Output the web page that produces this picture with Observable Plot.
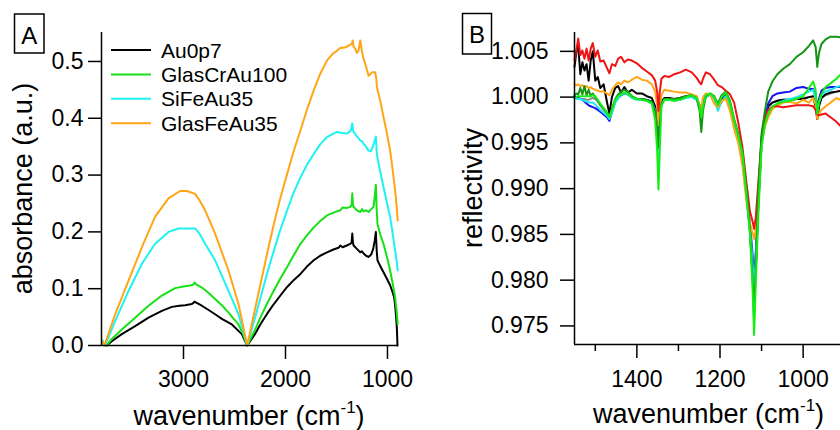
<!DOCTYPE html>
<html><head><meta charset="utf-8">
<script src="https://cdn.jsdelivr.net/npm/d3@7"></script>
<script src="https://cdn.jsdelivr.net/npm/@observablehq/plot@0.6"></script>
<style>
body{margin:0;background:#fff;}
#wrap{position:relative;width:840px;height:430px;overflow:hidden;background:#fff;}
#wrap svg{position:absolute;top:0;max-width:none;}
</style></head><body><div id="wrap"></div>
<script>
// ---------- Panel A data ----------
const seriesA = ["Au0p7", "GlasCrAu100", "SiFeAu35", "GlasFeAu35"];
const colorsA = ["#000000", "#16e016", "#1ff2f2", "#ffa516"];
const xTicksA = [3000, 2000, 1000];
const yTicksA = [0, 0.1, 0.2, 0.3, 0.4, 0.5];

const au0p7Wn  = [3790,3770,3752,3700,3605,3474,3343,3212,3114,3040,2984,2918,2900,2892,2880,2820,2750,2690,2624,2526,2428,2375,2300,2244,2180,2114,2050,1984,1920,1853,1790,1723,1660,1593,1530,1480,1463,1440,1400,1365,1352,1345,1338,1332,1300,1267,1250,1235,1210,1186,1160,1140,1125,1114,1105,1098,1085,1060,1039,1007,974,950,935,925,915,908,904,902];
const au0p7Abs = [0.004,0.002,0.0,0.008,0.020,0.034,0.049,0.061,0.068,0.070,0.071,0.073,0.0755,0.0775,0.076,0.070,0.062,0.055,0.047,0.037,0.020,0.0,0.020,0.038,0.056,0.073,0.088,0.103,0.115,0.126,0.139,0.150,0.158,0.164,0.169,0.172,0.176,0.173,0.176,0.179,0.181,0.197,0.180,0.176,0.170,0.164,0.166,0.162,0.158,0.156,0.160,0.170,0.185,0.200,0.165,0.150,0.145,0.136,0.129,0.118,0.106,0.094,0.085,0.070,0.050,0.030,0.010,0.0];

const glasCrWn  = [3795,3780,3755,3700,3605,3474,3343,3212,3082,3000,2951,2905,2892,2880,2820,2750,2690,2624,2559,2461,2420,2375,2300,2244,2180,2114,2050,1984,1920,1853,1790,1723,1660,1593,1530,1463,1440,1400,1365,1352,1345,1338,1332,1300,1267,1250,1235,1210,1186,1160,1137,1125,1114,1106,1098,1070,1039,1007,974,950,925,910,900];
const glasCrAbs = [0.006,0.002,0.0,0.012,0.028,0.049,0.070,0.088,0.101,0.104,0.105,0.107,0.111,0.108,0.102,0.092,0.082,0.071,0.058,0.037,0.022,0.0,0.027,0.050,0.074,0.097,0.118,0.138,0.159,0.179,0.194,0.208,0.219,0.229,0.234,0.238,0.243,0.242,0.244,0.247,0.268,0.248,0.244,0.238,0.235,0.240,0.236,0.238,0.235,0.240,0.244,0.262,0.283,0.240,0.214,0.195,0.179,0.157,0.132,0.110,0.085,0.060,0.038];

const siFeWn  = [3795,3785,3770,3670,3539,3408,3278,3147,3049,2960,2886,2840,2788,2690,2559,2461,2375,2300,2244,2180,2114,2050,1984,1920,1853,1790,1723,1660,1593,1530,1495,1450,1397,1360,1345,1335,1300,1267,1250,1235,1218,1186,1165,1153,1135,1114,1105,1098,1070,1039,1007,974,950,925,910,899];
const siFeAbs = [0.009,0.004,0.0,0.043,0.096,0.144,0.179,0.200,0.206,0.206,0.206,0.196,0.179,0.150,0.096,0.055,0.0,0.048,0.085,0.127,0.167,0.204,0.238,0.269,0.296,0.318,0.337,0.354,0.367,0.373,0.376,0.374,0.373,0.378,0.391,0.377,0.368,0.361,0.360,0.355,0.352,0.343,0.342,0.346,0.355,0.368,0.340,0.330,0.305,0.279,0.253,0.226,0.198,0.167,0.148,0.132];

const glasFeWn  = [3790,3775,3670,3539,3408,3278,3147,3033,2967,2886,2840,2788,2690,2559,2461,2375,2310,2244,2180,2114,2050,1984,1920,1853,1790,1723,1660,1593,1540,1495,1463,1430,1397,1360,1349,1342,1332,1315,1300,1284,1267,1251,1235,1218,1186,1165,1153,1121,1110,1104,1070,1039,1007,974,950,925,910,900];
const glasFeAbs = [0.006,0.0,0.055,0.114,0.173,0.227,0.259,0.272,0.272,0.267,0.255,0.238,0.197,0.132,0.073,0.0,0.055,0.109,0.162,0.214,0.260,0.302,0.342,0.379,0.415,0.449,0.478,0.502,0.513,0.519,0.524,0.524,0.526,0.530,0.531,0.537,0.526,0.522,0.515,0.519,0.537,0.519,0.505,0.496,0.475,0.478,0.481,0.481,0.470,0.455,0.430,0.402,0.375,0.343,0.310,0.273,0.245,0.220];

// ---------- Panel B data ----------
const wnB = [1550,1545,1541,1536,1531,1526,1521,1516,1511,1506,
 1500,1494,1488,1480,1472,1466,1460,1452,1445,1438,
 1430,1422,1412,1400,1388,1376,1364,1356,1351,1348,
 1345,1341,1334,1322,1310,1296,1282,1268,1256,1249,
 1245,1241,1234,1224,1214,1205,1196,1186,1176,1166,
 1156,1146,1136,1128,1122,1118,1114,1108,1100,1092,
 1084,1074,1062,1048,1032,1016,1000,986,976,970,
 966,962,956,946,934,920,905];
const xTicksB = [1400, 1200, 1000];
const xMinorB = [1500, 1300, 1100, 900];
const yTicksB = [0.975, 0.980, 0.985, 0.990, 0.995, 1.000, 1.005];

const grayR = [1.0000,0.9999,0.9999,0.9998,0.9998,0.9998,0.9997,0.9997,0.9998,0.9999,
 0.9998,0.9995,0.9991,0.9986,0.9982,0.9979,0.9985,0.9996,1.0000,1.0002,
 1.0004,1.0004,1.0000,0.9998,0.9998,0.9997,0.9995,0.9990,0.9975,0.9955,
 0.9975,0.9994,0.9998,0.9998,0.9997,0.9998,1.0000,1.0001,0.9998,0.9990,
 0.9983,0.9992,1.0001,1.0003,1.0000,0.9990,0.9998,1.0003,0.9990,0.9970,
 0.9955,0.9935,0.9893,0.9855,0.9810,0.9768,0.9810,0.9880,0.9950,0.9978,
 0.9990,0.9994,0.9996,0.9997,0.9997,0.9998,0.9999,1.0000,1.0000,0.9990,
 0.9976,0.9990,0.9999,1.0002,1.0004,1.0006,1.0007];
const blackR = [1.0033,1.0051,1.0056,1.0025,1.0038,1.0029,1.0036,1.0018,1.0040,1.0050,
 1.0018,1.0022,1.0010,1.0014,0.9995,0.9982,1.0000,1.0010,1.0012,1.0005,
 1.0011,1.0005,1.0008,1.0004,1.0004,1.0001,0.9999,0.9990,0.9975,0.9960,
 0.9975,0.9995,0.9999,0.9999,0.9998,0.9999,1.0001,1.0002,0.9999,0.9991,
 0.9984,0.9993,1.0002,1.0003,1.0000,0.9990,0.9998,1.0003,0.9990,0.9970,
 0.9955,0.9935,0.9893,0.9855,0.9812,0.9775,0.9812,0.9882,0.9950,0.9978,
 0.9990,0.9994,0.9996,0.9997,0.9997,0.9998,0.9998,1.0000,1.0001,0.9990,
 0.9976,0.9990,0.9999,1.0003,1.0005,1.0006,1.0007];
const blueR = [1.0001,1.0000,0.9999,0.9998,0.9997,0.9995,0.9993,0.9991,0.9990,0.9989,
 0.9988,0.9986,0.9984,0.9981,0.9978,0.9974,0.9984,0.9995,0.9999,1.0002,
 1.0004,1.0003,1.0000,0.9998,0.9998,0.9997,0.9995,0.9988,0.9972,0.9955,
 0.9972,0.9993,0.9998,0.9998,0.9997,0.9998,1.0000,1.0001,0.9998,0.9990,
 0.9984,0.9992,1.0001,1.0003,1.0000,0.9990,0.9995,1.0001,0.9990,0.9970,
 0.9955,0.9935,0.9895,0.9862,0.9830,0.9803,0.9830,0.9890,0.9955,0.9975,
 0.9993,1.0001,1.0004,1.0005,1.0006,1.0010,1.0011,1.0009,1.0009,1.0000,
 0.9989,0.9998,1.0007,1.0010,1.0011,1.0011,1.0011];
const cyanR = [0.9999,0.9998,0.9998,0.9998,0.9997,0.9996,0.9995,0.9994,0.9994,0.9994,
 0.9992,0.9989,0.9986,0.9983,0.9980,0.9976,0.9983,0.9994,0.9999,1.0002,
 1.0004,1.0003,0.9999,0.9997,0.9997,0.9996,0.9994,0.9985,0.9965,0.9935,
 0.9965,0.9992,0.9997,0.9997,0.9996,0.9997,0.9999,1.0000,0.9997,0.9988,
 0.9980,0.9990,1.0000,1.0002,0.9998,0.9985,0.9995,1.0001,0.9988,0.9968,
 0.9952,0.9932,0.9892,0.9858,0.9822,0.9793,0.9822,0.9885,0.9950,0.9972,
 0.9983,0.9988,0.9993,0.9996,0.9998,1.0000,1.0003,1.0006,1.0008,0.9998,
 0.9984,0.9994,1.0002,1.0006,1.0008,1.0011,1.0013];
const orangeR = [1.0014,1.0013,1.0014,1.0012,1.0013,1.0011,1.0012,1.0010,1.0011,1.0009,
 1.0008,1.0007,1.0006,1.0006,1.0004,1.0002,1.0008,1.0013,1.0016,1.0014,
 1.0018,1.0016,1.0019,1.0022,1.0019,1.0018,1.0014,1.0006,0.9990,0.9969,
 0.9988,1.0002,1.0008,1.0007,1.0006,1.0005,1.0005,1.0003,1.0001,0.9990,
 0.9986,1.0000,1.0004,1.0003,0.9993,0.9989,0.9996,0.9998,0.9985,0.9965,
 0.9950,0.9925,0.9885,0.9862,0.9852,0.9845,0.9855,0.9895,0.9950,0.9968,
 0.9978,0.9987,0.9991,0.9994,0.9995,0.9993,0.9997,0.9994,0.9999,0.9992,
 0.9976,0.9982,0.9986,0.9990,0.9994,0.9999,0.9996];
const redR = [1.0040,1.0053,1.0064,1.0046,1.0051,1.0042,1.0053,1.0040,1.0053,1.0059,
 1.0044,1.0051,1.0039,1.0040,1.0032,1.0026,1.0036,1.0034,1.0042,1.0044,
 1.0038,1.0041,1.0040,1.0037,1.0032,1.0028,1.0024,1.0018,1.0005,0.9985,
 1.0005,1.0020,1.0023,1.0022,1.0025,1.0027,1.0030,1.0027,1.0021,1.0016,
 1.0014,1.0020,1.0027,1.0025,1.0019,1.0013,1.0011,1.0007,1.0003,0.9994,
 0.9972,0.9945,0.9905,0.9875,0.9865,0.9856,0.9868,0.9905,0.9955,0.9978,
 0.9986,0.9990,0.9990,0.9989,0.9990,0.9991,0.9991,0.9991,0.9990,0.9986,
 0.9981,0.9980,0.9981,0.9982,0.9978,0.9973,0.9966];
const darkGreenR = [1.0002,1.0004,1.0003,1.0010,1.0003,1.0012,1.0002,1.0008,1.0001,1.0004,
 1.0000,0.9996,0.9992,0.9988,0.9983,0.9979,0.9987,0.9998,1.0003,1.0006,
 1.0008,1.0006,1.0001,0.9998,0.9998,0.9997,0.9995,0.9985,0.9965,0.9945,
 0.9968,0.9993,0.9998,0.9998,0.9998,0.9999,1.0001,1.0002,0.9999,0.9985,
 0.9962,0.9985,1.0001,1.0004,1.0001,0.9993,1.0002,1.0006,0.9996,0.9976,
 0.9960,0.9940,0.9898,0.9855,0.9805,0.9760,0.9810,0.9895,0.9960,0.9985,
 1.0006,1.0017,1.0025,1.0031,1.0036,1.0044,1.0049,1.0056,1.0062,1.0055,
 1.0033,1.0048,1.0058,1.0063,1.0066,1.0066,1.0065];
const limeR = [0.9999,1.0000,1.0001,1.0001,1.0001,1.0001,1.0001,1.0001,1.0001,1.0002,
 1.0001,0.9997,0.9993,0.9988,0.9983,0.9978,0.9986,0.9997,1.0001,1.0003,
 1.0005,1.0004,1.0000,0.9998,0.9997,0.9996,0.9993,0.9975,0.9940,0.9899,
 0.9940,0.9990,0.9997,0.9997,0.9996,0.9997,1.0000,1.0002,0.9999,0.9990,
 0.9978,0.9990,1.0002,1.0004,1.0000,0.9991,1.0000,1.0005,0.9994,0.9974,
 0.9958,0.9938,0.9890,0.9850,0.9795,0.9740,0.9795,0.9870,0.9945,0.9970,
 0.9982,0.9990,0.9993,0.9995,0.9996,0.9998,1.0001,1.0010,1.0017,1.0008,
 0.9982,0.9994,1.0003,1.0011,1.0015,1.0020,1.0027];

const seriesB = ["gray", "black", "blue", "cyan", "orange", "red", "dark green", "green"];
const valuesB = [grayR, blackR, blueR, cyanR, orangeR, redR, darkGreenR, limeR];
const colorsB = ["#8c8c8c", "#000000", "#1414f0", "#1fe6f0", "#ffa516", "#f01414", "#149614", "#16ec16"];

// ---------- build ----------
const FONT = "'Liberation Sans', Arial, Helvetica, sans-serif";
const wrap = document.getElementById("wrap");

const wnA = [au0p7Wn, glasCrWn, siFeWn, glasFeWn];
const absA = [au0p7Abs, glasCrAbs, siFeAbs, glasFeAbs];
const dataA = seriesA.flatMap((s, i) => wnA[i].map((w, j) => ({series: s, wn: w, v: absA[i][j]})));
const A_X = [3804, 892], A_Y = [0, 0.551];

const plotA = Plot.plot({
  width: 420, height: 430,
  marginLeft: 101, marginRight: 22, marginTop: 32, marginBottom: 85,
  x: {domain: A_X}, y: {domain: A_Y},
  color: {domain: seriesA, range: colorsA},
  style: {fontSize: "23px", fontFamily: FONT, color: "#000", background: "transparent", overflow: "visible"},
  marks: [
    Plot.line(dataA, {x: "wn", y: "v", z: "series", stroke: "series", strokeWidth: 2}),
    Plot.axisY({ticks: yTicksA, tickSize: 13, tickPadding: 5, tickFormat: d3.format(".1f"), strokeWidth: 1.5, label: null}),
    Plot.axisX({ticks: xTicksA, tickSize: 14, tickPadding: 11, tickFormat: d3.format("d"), strokeWidth: 1.5, label: null}),
    Plot.ruleX([A_X[0]], {strokeWidth: 1.5}),
    Plot.ruleY([A_Y[0]], {strokeWidth: 1.5})
  ]
});
plotA.style.left = "0px";
wrap.appendChild(plotA);

const sA = d3.select(plotA);
// legend
seriesA.forEach((s, i) => {
  const y = 50 + i * 24.4;
  sA.append("line").attr("x1", 111).attr("x2", 151).attr("y1", y).attr("y2", y)
    .attr("stroke", colorsA[i]).attr("stroke-width", 2);
  sA.append("text").attr("x", 161).attr("y", y).attr("dy", "0.36em").attr("text-anchor", "start")
    .attr("font-size", 21).attr("font-family", FONT).attr("fill", "#000").text(s);
});
function panelLetter(svg, x, y, w, h, letter) {
  svg.append("rect").attr("x", x).attr("y", y).attr("width", w).attr("height", h)
    .attr("fill", "none").attr("stroke", "#000").attr("stroke-width", 1.5);
  svg.append("text").attr("x", x + w / 2).attr("y", y + 29.5).attr("text-anchor", "middle")
    .attr("font-size", 24).attr("font-family", FONT).attr("fill", "#000").text(letter);
}
function xTitle(svg, cx, y) {
  const t = svg.append("text").attr("x", cx).attr("y", y).attr("text-anchor", "middle")
    .attr("font-size", 27).attr("font-family", FONT).attr("fill", "#000");
  t.append("tspan").text("wavenumber (cm");
  t.append("tspan").attr("font-size", 17).attr("dy", -12).text("-1");
  t.append("tspan").attr("dy", 12).text(")");
}
function yTitle(svg, x, cy, label) {
  svg.append("text").attr("transform", `translate(${x},${cy}) rotate(-90)`).attr("text-anchor", "middle")
    .attr("font-size", 27).attr("font-family", FONT).attr("fill", "#000").text(label);
}
panelLetter(sA, 14.5, 14, 29.5, 39, "A");
xTitle(sA, 249, 425);
yTitle(sA, 31.5, 188.5, "absorbance (a.u.)");

// Panel B
const dataB = seriesB.flatMap((s, i) => wnB.map((w, j) => ({series: s, wn: w, r: valuesB[i][j]})));
const B_X = [1550, 850], B_Y = [0.97297, 1.00706];
const plotB = Plot.plot({
  width: 470, height: 430,
  marginLeft: 154, marginRight: 25, marginTop: 32, marginBottom: 86,
  x: {domain: B_X}, y: {domain: B_Y},
  color: {domain: seriesB, range: colorsB},
  style: {fontSize: "23px", fontFamily: FONT, color: "#000", background: "transparent", overflow: "visible"},
  marks: [
    Plot.line(dataB, {x: "wn", y: "r", z: "series", stroke: "series", strokeWidth: 2}),
    Plot.axisY({ticks: yTicksB, tickSize: 14, tickPadding: 12, tickFormat: d3.format(".3f"), strokeWidth: 1.5, label: null}),
    Plot.axisX({ticks: xTicksB, tickSize: 14, tickPadding: 12, tickFormat: d3.format("d"), strokeWidth: 1.5, label: null}),
    Plot.axisX({ticks: xMinorB, tickSize: 7, tickFormat: () => "", strokeWidth: 1.5, label: null}),
    Plot.ruleX([B_X[0]], {strokeWidth: 1.5}),
    Plot.ruleY([B_Y[0]], {strokeWidth: 1.5})
  ]
});
plotB.style.left = "420px";
wrap.appendChild(plotB);
const sB = d3.select(plotB);
panelLetter(sB, 42.5, 13.5, 29, 40.5, "B");
xTitle(sB, 288.5, 423);
yTitle(sB, 61.5, 188, "reflectivity");
</script>
</body></html>
